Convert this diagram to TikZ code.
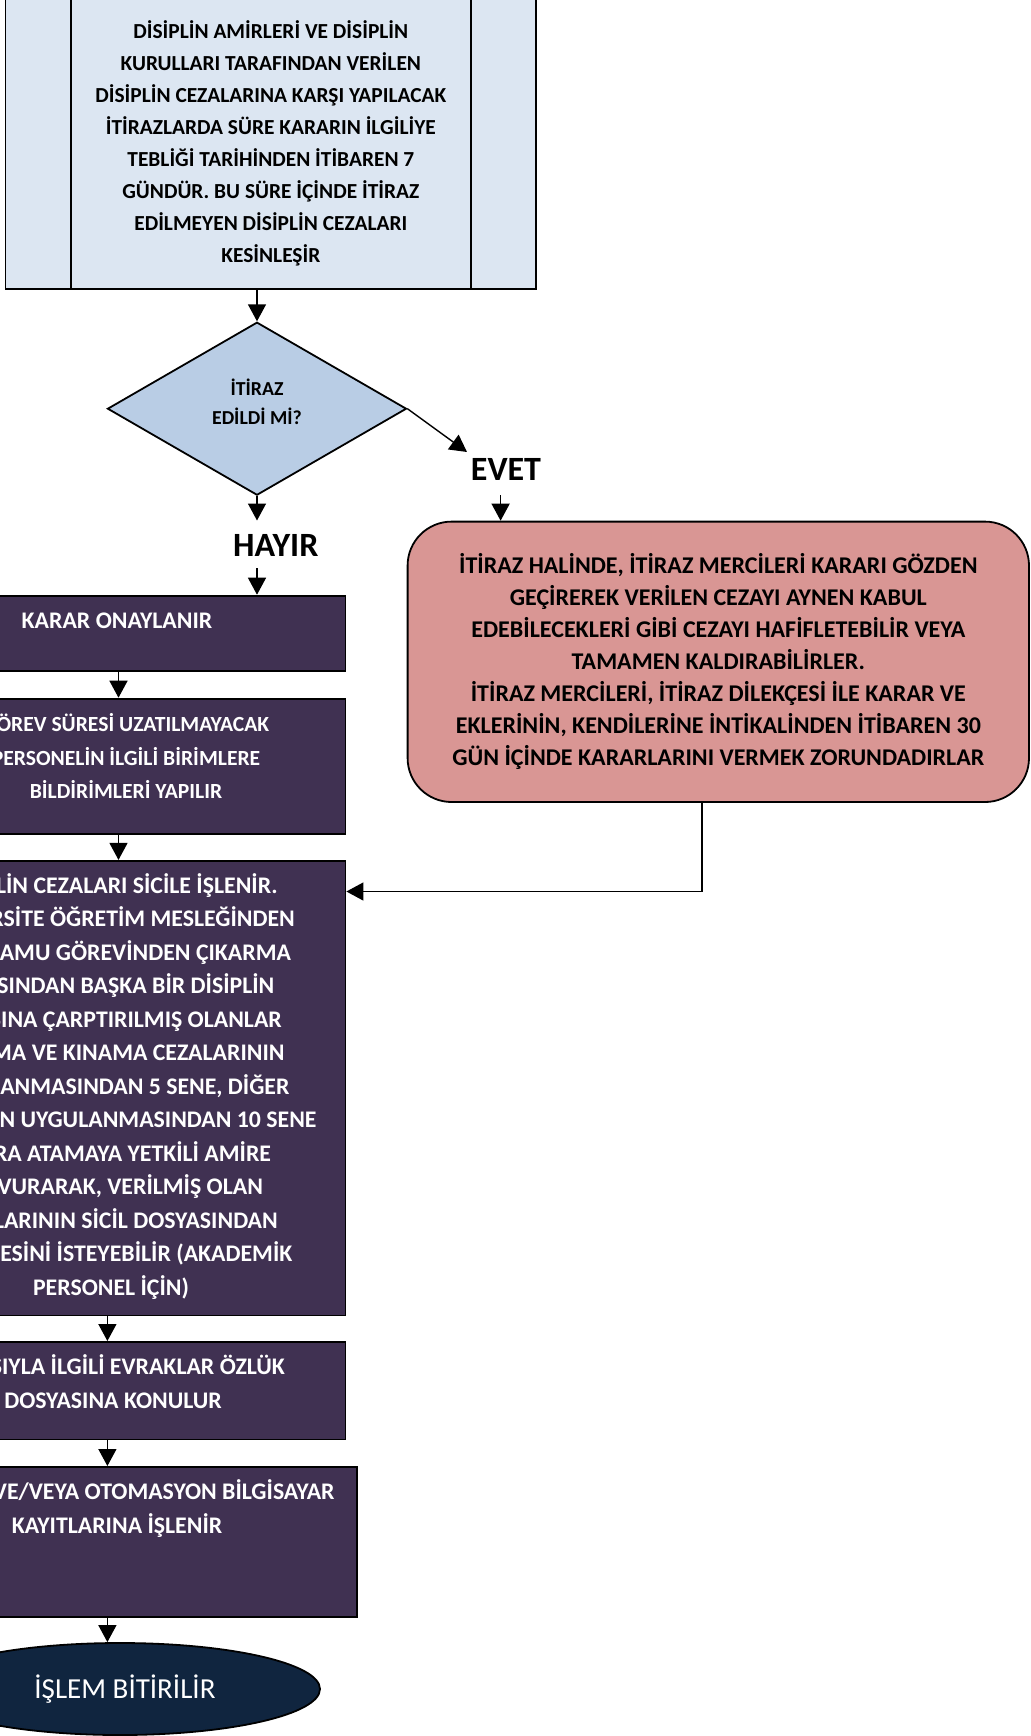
\documentclass[tikz,border=0pt]{standalone}
\usepackage{fontspec}
\setmainfont{Carlito}
\usepackage{tikz}
\usetikzlibrary{shapes.geometric,arrows.meta}

\definecolor{kutumavi}{RGB}{220,230,242}
\definecolor{karomavi}{RGB}{185,205,229}
\definecolor{pembe}{RGB}{217,150,148}
\definecolor{mor}{RGB}{64,49,82}
\definecolor{lacivert}{RGB}{16,37,63}

% mor kutularda yazi ustte durur
\newcommand{\morkutu}[3]{\parbox[c][#2][t]{#1}{\centering\rule{0pt}{16.3pt}#3}}

\begin{document}
\begin{tikzpicture}[x=0.5pt,y=-0.5pt,>={Triangle[length=8.5pt,width=9pt]},
  ok/.style={->,line width=0.7pt},
  kutu/.style={draw,line width=0.9pt,align=center},
  mkutu/.style={draw,line width=0.9pt,fill=mor,text=white,inner sep=0pt,anchor=north,
    font=\bfseries\fontsize{11.9}{16.75}\selectfont},
  yazi/.style={font=\bfseries\fontsize{17}{20}\selectfont}]
\useasboundingbox (0,0) rectangle (1030,1736);
\fill[white] (0,0) rectangle (1030,1736);
\clip (0,0) rectangle (1030,1736);

\node[kutu,fill=kutumavi,minimum width=265.25pt,minimum height=145.5pt,
  font=\bfseries\fontsize{10.7}{16}\selectfont] (ust) at (270.8,143.5)
  {DİSİPLİN AMİRLERİ VE DİSİPLİN\\
   KURULLARI TARAFINDAN VERİLEN\\
   DİSİPLİN CEZALARINA KARŞI YAPILACAK\\
   İTİRAZLARDA SÜRE KARARIN İLGİLİYE\\
   TEBLİĞİ TARİHİNDEN İTİBAREN 7\\
   GÜNDÜR. BU SÜRE İÇİNDE İTİRAZ\\
   EDİLMEYEN DİSİPLİN CEZALARI\\
   KESİNLEŞİR};
\draw[line width=0.9pt] ([xshift=33.25pt]ust.north west) -- ([xshift=33.25pt]ust.south west);
\draw[line width=0.9pt] ([xshift=-33pt]ust.north east) -- ([xshift=-33pt]ust.south east);

\node[kutu,diamond,fill=karomavi,inner sep=0pt,minimum width=149.5pt,minimum height=86.5pt,
  font=\bfseries\fontsize{9.9}{14.75}\selectfont] (karar) at (257,408.7)
  {\raisebox{2.2pt}[\height][\depth]{\tabcolsep=0pt\begin{tabular}{c}İTİRAZ\\EDİLDİ Mİ?\end{tabular}}};

\node[yazi] (evet) at (506,469.6) {EVET};
\node[yazi] (hayir) at (275.8,545) {HAYIR};

\node[kutu,fill=pembe,rounded corners=22pt,minimum width=310.7pt,minimum height=140.2pt,
  font=\bfseries\fontsize{12}{16}\selectfont] (itiraz) at (718.3,661.8)
  {İTİRAZ HALİNDE, İTİRAZ MERCİLERİ KARARI GÖZDEN\\
   GEÇİREREK VERİLEN CEZAYI AYNEN KABUL\\
   EDEBİLECEKLERİ GİBİ CEZAYI HAFİFLETEBİLİR VEYA\\
   TAMAMEN KALDIRABİLİRLER.\\
   İTİRAZ MERCİLERİ, İTİRAZ DİLEKÇESİ İLE KARAR VE\\
   EKLERİNİN, KENDİLERİNE İNTİKALİNDEN İTİBAREN 30\\
   GÜN İÇİNDE KARARLARINI VERMEK ZORUNDADIRLAR};

\node[mkutu] (b1) at (117,594.7) {\morkutu{228.5pt}{37.65pt}{KARAR ONAYLANIR}};
\node[mkutu,font=\bfseries\fontsize{10.8}{16.9}\selectfont] (b2) at (126,697.7)
  {\morkutu{219.5pt}{67.5pt}{GÖREV SÜRESİ UZATILMAYACAK\\
  PERSONELİN İLGİLİ BİRİMLERE\\BİLDİRİMLERİ YAPILIR}};
\node[mkutu] (b3) at (111,859.9) {\morkutu{234.5pt}{227.35pt}{DİSİPLİN CEZALARI SİCİLE İŞLENİR.\\
  ÜNİVERSİTE ÖĞRETİM MESLEĞİNDEN\\VEYA KAMU GÖREVİNDEN ÇIKARMA\\
  CEZASINDAN BAŞKA BİR DİSİPLİN\\CEZASINA ÇARPTIRILMIŞ OLANLAR\\
  UYARMA VE KINAMA CEZALARININ\\UYGULANMASINDAN 5 SENE, DİĞER\\
  CEZALARIN UYGULANMASINDAN 10 SENE\\SONRA ATAMAYA YETKİLİ AMİRE\\
  BAŞVURARAK, VERİLMİŞ OLAN\\CEZALARININ SİCİL DOSYASINDAN\\
  SİLİNMESİNİ İSTEYEBİLİR (AKADEMİK\\PERSONEL İÇİN)}};
\node[mkutu] (b4) at (113,1341) {\morkutu{232.5pt}{48.8pt}{CEZASIYLA İLGİLİ EVRAKLAR ÖZLÜK\\
  DOSYASINA KONULUR}};
\node[mkutu] (b5) at (117,1466) {\morkutu{239.6pt}{75pt}{MANUEL VE/VEYA OTOMASYON BİLGİSAYAR\\
  KAYITLARINA İŞLENİR}};

\node[draw,ellipse,fill=lacivert,text=white,line width=0.9pt,inner sep=0pt,
  minimum width=200pt,minimum height=46pt,font=\fontsize{14.5}{17}\selectfont]
  (son) at (120,1689) {\hspace*{5pt}İŞLEM BİTİRİLİR};

\coordinate (evetuc) at (467,452);
\coordinate (evetalt) at (500.6,495);
\coordinate (hayirust) at (257,520.5);
\coordinate (hayiralt) at (257,568);
\coordinate (x1) at (118.5,0);
\coordinate (x2) at (107.4,0);
\coordinate (don) at (702,891.5);

\draw[ok] (ust.south -| karar.north) -- (karar.north);
\draw[ok] (karar.east) -- (evetuc);
\draw[ok] (evetalt) -- (evetalt |- itiraz.north);
\draw[ok] (karar.south) -- (hayirust);
\draw[ok] (hayiralt) -- (hayiralt |- b1.north);
\draw[ok] (b1.south -| x1) -- (b2.north -| x1);
\draw[ok] (b2.south -| x1) -- (b3.north -| x1);
\draw[ok] (b3.south -| x2) -- (b4.north -| x2);
\draw[ok] (b4.south -| x2) -- (b5.north -| x2);
\draw[ok] (b5.south -| x2) -- (son.north -| x2);
\draw[ok] (itiraz.south -| don) -- (don) -- (don -| b3.east);
\end{tikzpicture}
\end{document}
